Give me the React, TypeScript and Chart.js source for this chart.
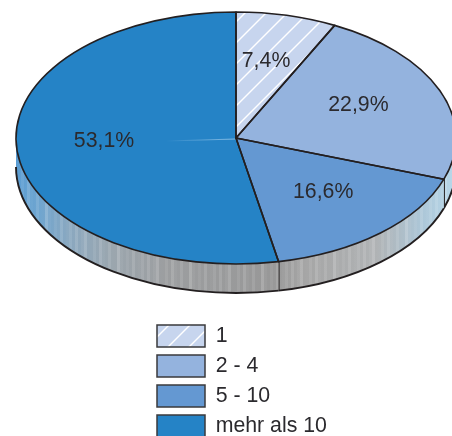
import { useEffect, useRef } from "react";
import { Chart } from "chart.js/auto";

const categories = ["1", "2 - 4", "5 - 10", "mehr als 10"];
const shares = [7.4, 22.9, 16.6, 53.1];
const valueLabels = ["7,4%", "22,9%", "16,6%", "53,1%"];
const sliceColors = ["#c7d5ee", "#94b3de", "#6498d2", "#2583c6"];
// radial distance (fraction of the radius) and angular nudge in degrees per value label
const labelRadial = [0.64, 0.62, 0.57, 0.6];
const labelNudge = [-1, -4, -3, 5];

const INK = "#231f20";
const TEXT = "#2b2a2e";
const FONT = "'Liberation Sans', Arial, sans-serif";

// Tilted disc: centre, horizontal and vertical radii, rim height
const DISC = { cx: 236, cy: 138, rx: 220, ry: 126, depth: 29 };

const rimStops: [number, string][] = [
  [0.0, "#5b9dd3"],
  [0.05, "#6ea5d0"],
  [0.12, "#8aa8c0"],
  [0.22, "#9ba6ae"],
  [0.34, "#9c9ea0"],
  [0.58, "#989898"],
  [0.66, "#a6a6a6"],
  [0.82, "#b0b3b5"],
  [0.92, "#acc6d7"],
  [1.0, "#b8d8ea"],
];
const rimStreaks = [0, 0.12, 0, 0.05, 0.16, 0, 0, 0.08, 0, 0.14, 0.03, 0, 0.1, 0, 0, 0.18, 0.04, 0, 0.06, 0, 0.12, 0, 0.02, 0.09];

function hatchTile(offset: number, ctx: CanvasRenderingContext2D): CanvasPattern {
  const size = 21;
  const tile = document.createElement("canvas");
  tile.width = size;
  tile.height = size;
  const t = tile.getContext("2d")!;
  t.fillStyle = sliceColors[0];
  t.fillRect(0, 0, size, size);
  t.strokeStyle = "#ffffff";
  t.lineWidth = 1.4;
  for (let k = -1; k <= 2; k++) {
    const c = offset + k * size;
    t.beginPath();
    t.moveTo(-2, c + 2);
    t.lineTo(c + 2, -2);
    t.stroke();
  }
  return ctx.createPattern(tile, "repeat")!;
}

function streakTile(ctx: CanvasRenderingContext2D): CanvasPattern {
  const tile = document.createElement("canvas");
  tile.width = rimStreaks.length * 3;
  tile.height = 4;
  const t = tile.getContext("2d")!;
  rimStreaks.forEach((a, i) => {
    t.fillStyle = `rgba(255,255,255,${a})`;
    t.fillRect(i * 3, 0, 3, 4);
  });
  return ctx.createPattern(tile, "repeat")!;
}

export default function App() {
  const ref = useRef<HTMLCanvasElement>(null);

  useEffect(() => {
    const canvas = ref.current!;
    const ctx = canvas.getContext("2d")!;
    const sliceHatch = hatchTile(6, ctx);
    const legendHatch = hatchTile(11, ctx);
    const streaks = streakTile(ctx);

    const applyTilt = (c: CanvasRenderingContext2D, arc: any) => {
      c.translate(DISC.cx, DISC.cy);
      c.scale(DISC.rx / arc.outerRadius, DISC.ry / arc.outerRadius);
      c.translate(-arc.x, -arc.y);
    };

    const tiltedDisc = {
      id: "tiltedDisc",
      // The legend column sits under the disc rather than beside it
      afterLayout(chart: any) {
        const legend = chart.legend;
        const w = legend.width;
        const h = legend.height;
        legend.left = 149;
        legend.right = 149 + w;
        legend.top = 317;
        legend.bottom = 317 + h;
        legend.adjustHitBoxes();
      },
      beforeDatasetsDraw(chart: any) {
        const c: CanvasRenderingContext2D = chart.ctx;
        const { cx, cy, rx, ry, depth } = DISC;
        const arcs = chart.getDatasetMeta(0).data;
        const shade = c.createLinearGradient(cx - rx, 0, cx + rx, 0);
        rimStops.forEach(([p, col]) => shade.addColorStop(p, col));

        c.save();
        arcs.forEach((arc: any, i: number) => {
          const a0 = Math.max(arc.startAngle, 0);
          const a1 = Math.min(arc.endAngle, Math.PI);
          if (a1 <= a0) return;
          c.beginPath();
          c.ellipse(cx, cy, rx, ry, 0, a0, a1);
          c.ellipse(cx, cy + depth, rx, ry, 0, a1, a0, true);
          c.closePath();
          c.fillStyle = shade;
          c.fill();
          c.fillStyle = streaks;
          c.fill();
          // lower rim edge
          c.beginPath();
          c.ellipse(cx, cy + depth, rx, ry, 0, a0, a1);
          c.strokeStyle = INK;
          c.lineWidth = 1.9;
          c.stroke();
          // seam between two neighbouring slices
          if (i < arcs.length - 1 && arc.endAngle > 0 && arc.endAngle < Math.PI) {
            const x = cx + rx * Math.cos(arc.endAngle);
            const y = cy + ry * Math.sin(arc.endAngle);
            c.beginPath();
            c.moveTo(x, y);
            c.lineTo(x, y + depth);
            c.lineWidth = 2;
            c.stroke();
          }
        });
        c.restore();

        c.save();
        applyTilt(c, arcs[0]);
        sliceHatch.setTransform(c.getTransform().inverse());
      },
      afterDatasetsDraw(chart: any) {
        const c: CanvasRenderingContext2D = chart.ctx;
        c.restore();
        const arcs = chart.getDatasetMeta(0).data;

        // faint light seam running left from the hub
        const seam = c.createLinearGradient(DISC.cx, 0, DISC.cx - 70, 0);
        seam.addColorStop(0, "rgba(170,210,240,0.75)");
        seam.addColorStop(1, "rgba(170,210,240,0)");
        c.save();
        c.strokeStyle = seam;
        c.lineWidth = 1;
        c.beginPath();
        c.moveTo(DISC.cx, DISC.cy + 1);
        c.lineTo(DISC.cx - 70, DISC.cy + 3);
        c.stroke();
        c.restore();

        arcs.forEach((arc: any) => {
          c.save();
          applyTilt(c, arc);
          c.beginPath();
          c.moveTo(arc.x, arc.y);
          c.arc(arc.x, arc.y, arc.outerRadius, arc.startAngle, arc.endAngle);
          c.closePath();
          c.restore();
          c.save();
          c.strokeStyle = INK;
          c.lineWidth = 1.6;
          c.lineJoin = "round";
          c.stroke();
          c.restore();
        });

        c.save();
        c.fillStyle = TEXT;
        c.font = `21.3px ${FONT}`;
        c.textAlign = "center";
        c.textBaseline = "middle";
        arcs.forEach((arc: any, i: number) => {
          const mid = (arc.startAngle + arc.endAngle) / 2 + (labelNudge[i] * Math.PI) / 180;
          const x = DISC.cx + DISC.rx * labelRadial[i] * Math.cos(mid);
          const y = DISC.cy + DISC.ry * labelRadial[i] * Math.sin(mid) + 2;
          c.fillText(valueLabels[i], x, y);
        });
        c.restore();
      },
    };

    const chart = new Chart(canvas, {
      type: "pie",
      data: {
        labels: categories,
        datasets: [
          {
            data: shares,
            backgroundColor: [sliceHatch, sliceColors[1], sliceColors[2], sliceColors[3]],
            borderWidth: 0,
            clip: false,
          } as any,
        ],
      },
      options: {
        responsive: false,
        animation: false,
        events: [],
        layout: { padding: 0 },
        plugins: {
          tooltip: { enabled: false },
          legend: {
            position: "left",
            align: "start",
            labels: {
              boxWidth: 48,
              boxHeight: 22,
              padding: 8,
              color: TEXT,
              font: { family: FONT, size: 21.3 },
              generateLabels: () =>
                categories.map((text, i) => ({
                  text,
                  index: i,
                  hidden: false,
                  fillStyle: i === 0 ? legendHatch : sliceColors[i],
                  strokeStyle: "#3a3a3c",
                  lineWidth: 1.5,
                  fontColor: TEXT,
                })),
            },
          },
        },
      },
      plugins: [tiltedDisc],
    } as any);

    return () => chart.destroy();
  }, []);

  return (
    <div style={{ position: "absolute", left: 0, top: 0, width: 452, height: 436, overflow: "hidden", background: "#fff" }}>
      <canvas ref={ref} width={452} height={436} style={{ display: "block" }} />
    </div>
  );
}
